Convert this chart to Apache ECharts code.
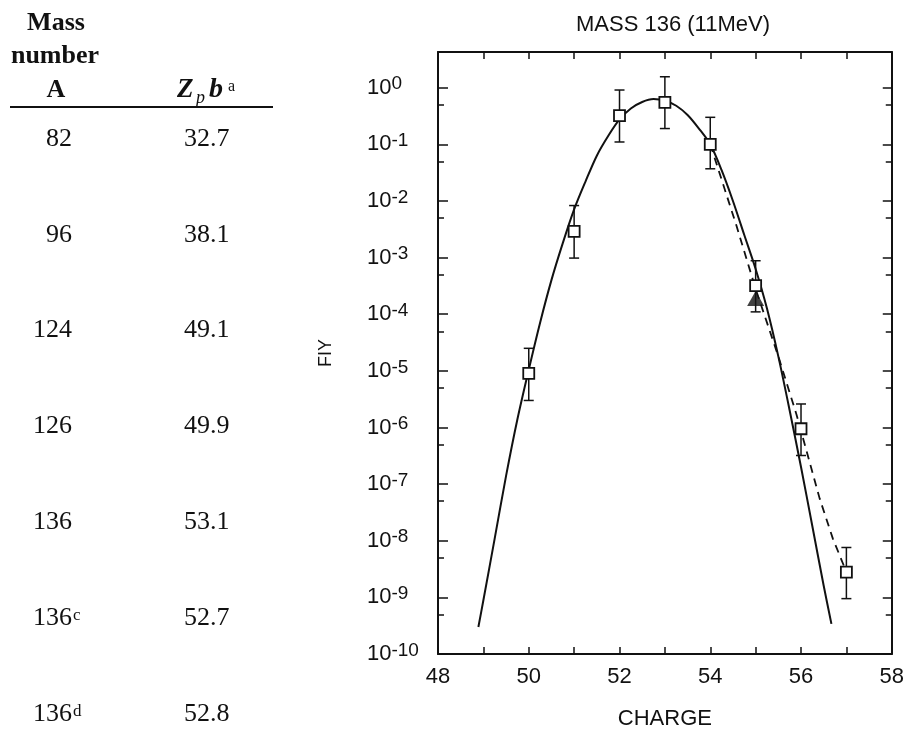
<!DOCTYPE html>
<html>
<head>
<meta charset="utf-8">
<script src="https://cdn.jsdelivr.net/npm/echarts@6/dist/echarts.min.js"></script>
<style>html,body{margin:0;padding:0;background:#fff}#c{width:907px;height:735px}</style>
</head>
<body>
<div id="c"></div>
<script>
// ---- Table data ----
const massNumbers = ['82', '96', '124', '126', '136', '136', '136'];
const massNotes = ['', '', '', '', '', 'c', 'd'];
const zpValues = ['32.7', '38.1', '49.1', '49.9', '53.1', '52.7', '52.8'];

// ---- Chart data ----
const chargePts = [50, 51, 52, 53, 54, 55, 56, 57];
const fiyPts = [9e-6, 2.9e-3, 0.32, 0.55, 0.10, 3.2e-4, 9.5e-7, 2.8e-9];
const fiyLow = [3.0e-6, 9.8e-4, 0.11, 0.19, 0.037, 1.1e-4, 3.2e-7, 9.5e-10];
const fiyHigh = [2.5e-5, 8.3e-3, 0.91, 1.56, 0.30, 8.8e-4, 2.6e-6, 7.6e-9];
const triCharge = [55];
const triFiy = [1.9e-4];

const solidX = [48.89, 49.0, 49.25, 49.5, 49.75, 50.0, 50.25, 50.5, 50.75, 51.0, 51.25, 51.5, 51.75, 52.0, 52.25, 52.5, 52.75, 53.0, 53.25, 53.5, 53.75, 54.0, 54.25, 54.5, 54.75, 55.0, 55.25, 55.5, 55.75, 56.0, 56.25, 56.5, 56.67];
const solidY = [3.0e-10, 8.9e-10, 1.1e-8, 1.4e-7, 1.4e-6, 1.05e-5, 7.1e-5, 4.0e-4, 1.8e-3, 7.1e-3, 0.022, 0.063, 0.14, 0.275, 0.43, 0.56, 0.63, 0.59, 0.48, 0.33, 0.19, 0.10, 0.035, 0.010, 2.5e-3, 6.3e-4, 1.26e-4, 1.8e-5, 2.0e-6, 2.0e-7, 1.8e-8, 1.6e-9, 3.4e-10];

const dashX = [54.0, 54.58, 55.0, 55.5, 55.9, 56.41, 56.7, 57.0];
const dashY = [0.10, 3.6e-3, 2.8e-4, 1.8e-5, 1.7e-6, 5.6e-8, 1.1e-8, 2.8e-9];

const yDecades = [1e-10, 1e-9, 1e-8, 1e-7, 1e-6, 1e-5, 1e-4, 1e-3, 1e-2, 1e-1, 1];
const yMinor = [5e-10, 5e-9, 5e-8, 5e-7, 5e-6, 5e-5, 5e-4, 5e-3, 5e-2, 5e-1];
const xTickLabels = ['48', '50', '52', '54', '56', '58'];

// ---- build ----
const SANS = '"Liberation Sans", Arial, sans-serif';
const SERIF = '"Liberation Serif", "Times New Roman", serif';
const BLACK = '#111';

const chart = echarts.init(document.getElementById('c'), null, {renderer: 'canvas'});

const graphics = [];
function txt(x, y, text, opts) {
  graphics.push({
    type: 'text', x: x, y: y, silent: true,
    style: Object.assign({
      text: text, fill: BLACK, fontFamily: SERIF, fontSize: 26,
      align: 'left', verticalAlign: 'middle',
      textAlign: 'left', textVerticalAlign: 'middle'
    }, opts || {})
  });
}
txt(56, 23, 'Mass', {fontWeight: 'bold', fontSize: 26, align: 'center', textAlign: 'center'});
txt(55, 56, 'number', {fontWeight: 'bold', fontSize: 26, align: 'center', textAlign: 'center'});
txt(56, 90, 'A', {fontWeight: 'bold', fontSize: 26, align: 'center', textAlign: 'center'});
txt(177, 90, 'Z', {fontWeight: 'bold', fontStyle: 'italic', fontSize: 27});
txt(196, 98, 'p', {fontStyle: 'italic', fontSize: 18});
txt(209, 90, 'b', {fontWeight: 'bold', fontStyle: 'italic', fontSize: 28});
txt(228, 87, 'a', {fontSize: 16});
graphics.push({type: 'line', silent: true, shape: {x1: 10, y1: 107, x2: 273, y2: 107}, style: {stroke: BLACK, lineWidth: 2}});

massNumbers.forEach(function (m, i) {
  const y = 139 + i * 95.8;
  txt(72, y, m, {align: 'right', textAlign: 'right'});
  if (massNotes[i]) {
    txt(73, y - 11, massNotes[i], {fontSize: 17, verticalAlign: 'top', textVerticalAlign: 'top'});
  }
  txt(184, y, zpValues[i]);
});

function yLabel(v) {
  const e = Math.round(Math.log10(v));
  if (Math.abs(Math.log10(v) - e) > 1e-6) return '';
  return '{b|10}{s|' + e + '}';
}

const option = {
  animation: false,
  backgroundColor: '#fff',
  title: {
    text: 'MASS 136 (11MeV)', left: 571, top: 9,
    textStyle: {fontFamily: SANS, fontSize: 22, fontWeight: 'normal', color: BLACK}
  },
  grid: {left: 438, right: 15, top: 52, bottom: 78, containLabel: false},
  xAxis: [{
    type: 'value', min: 48, max: 58, interval: 1, position: 'bottom',
    name: 'CHARGE', nameLocation: 'middle', nameGap: 54,
    nameTextStyle: {fontFamily: SANS, fontSize: 22, color: BLACK},
    axisLine: {show: true, lineStyle: {color: BLACK, width: 2}},
    axisTick: {show: true, inside: true, length: 7, lineStyle: {color: BLACK, width: 1.5}},
    axisLabel: {
      margin: 12, fontFamily: SANS, fontSize: 22, color: BLACK,
      formatter: function (v) { const s = String(v); return xTickLabels.indexOf(s) >= 0 ? s : ''; }
    },
    splitLine: {show: false}
  }, {
    type: 'value', min: 48, max: 58, interval: 1, position: 'top',
    axisLine: {show: true, lineStyle: {color: BLACK, width: 2}},
    axisTick: {show: true, inside: true, length: 7, lineStyle: {color: BLACK, width: 1.5}},
    axisLabel: {show: false}, splitLine: {show: false}
  }],
  yAxis: [{
    type: 'log', min: 1e-10, max: 4.27, position: 'left',
    name: 'FIY', nameLocation: 'middle', nameGap: 103,
    nameTextStyle: {fontFamily: SANS, fontSize: 18, color: BLACK},
    axisLine: {show: true, lineStyle: {color: BLACK, width: 2}},
    axisTick: {show: true, inside: true, length: 10, customValues: yDecades, lineStyle: {color: BLACK, width: 1.5}},
    axisLabel: {
      customValues: yDecades, align: 'left', margin: 71, color: BLACK,
      formatter: yLabel,
      rich: {
        b: {fontFamily: SANS, fontSize: 22, lineHeight: 26, color: BLACK},
        s: {fontFamily: SANS, fontSize: 19, lineHeight: 19, verticalAlign: 'top', color: BLACK}
      }
    },
    splitLine: {show: false}
  }, {
    type: 'log', min: 1e-10, max: 4.27, position: 'left',
    axisLine: {show: false},
    axisTick: {show: true, inside: true, length: 6, customValues: yMinor, lineStyle: {color: BLACK, width: 1.5}},
    axisLabel: {show: false}, splitLine: {show: false}
  }, {
    type: 'log', min: 1e-10, max: 4.27, position: 'right',
    axisLine: {show: true, lineStyle: {color: BLACK, width: 2}},
    axisTick: {show: true, inside: true, length: 9, customValues: yDecades, lineStyle: {color: BLACK, width: 1.5}},
    axisLabel: {show: false}, splitLine: {show: false}
  }, {
    type: 'log', min: 1e-10, max: 4.27, position: 'right',
    axisLine: {show: false},
    axisTick: {show: true, inside: true, length: 6, customValues: yMinor, lineStyle: {color: BLACK, width: 1.5}},
    axisLabel: {show: false}, splitLine: {show: false}
  }],
  series: [{
    type: 'line', name: 'fit', xAxisIndex: 0, yAxisIndex: 0,
    data: solidX.map(function (x, i) { return [x, solidY[i]]; }),
    smooth: 0.3, symbol: 'none',
    lineStyle: {color: BLACK, width: 2}, z: 2
  }, {
    type: 'line', name: 'dashed', xAxisIndex: 0, yAxisIndex: 0,
    data: dashX.map(function (x, i) { return [x, dashY[i]]; }),
    smooth: false, symbol: 'none',
    lineStyle: {color: BLACK, width: 1.8, type: [8, 6]}, z: 2
  }, {
    type: 'custom', name: 'err', xAxisIndex: 0, yAxisIndex: 0,
    data: chargePts.map(function (x, i) { return [x, fiyLow[i], fiyHigh[i]]; }),
    encode: {x: 0, y: [1, 2]},
    renderItem: function (params, api) {
      const x = api.value(0);
      const lo = api.coord([x, api.value(1)]);
      const hi = api.coord([x, api.value(2)]);
      const w = 5;
      const st = {stroke: BLACK, lineWidth: 1.5};
      return {type: 'group', children: [
        {type: 'line', shape: {x1: lo[0], y1: lo[1], x2: hi[0], y2: hi[1]}, style: st},
        {type: 'line', shape: {x1: lo[0] - w, y1: lo[1], x2: lo[0] + w, y2: lo[1]}, style: st},
        {type: 'line', shape: {x1: hi[0] - w, y1: hi[1], x2: hi[0] + w, y2: hi[1]}, style: st}
      ]};
    },
    z: 3
  }, {
    type: 'scatter', name: 'data', xAxisIndex: 0, yAxisIndex: 0,
    data: chargePts.map(function (x, i) { return [x, fiyPts[i]]; }),
    symbol: 'rect', symbolSize: 11,
    itemStyle: {color: '#fff', borderColor: BLACK, borderWidth: 1.8, opacity: 1},
    z: 4
  }, {
    type: 'scatter', name: 'tri', xAxisIndex: 0, yAxisIndex: 0,
    data: triCharge.map(function (x, i) { return [x, triFiy[i]]; }),
    symbol: 'triangle', symbolSize: [17, 15],
    itemStyle: {color: BLACK},
    z: 5
  }],
  graphic: graphics
};
chart.setOption(option);
</script>
</body>
</html>
